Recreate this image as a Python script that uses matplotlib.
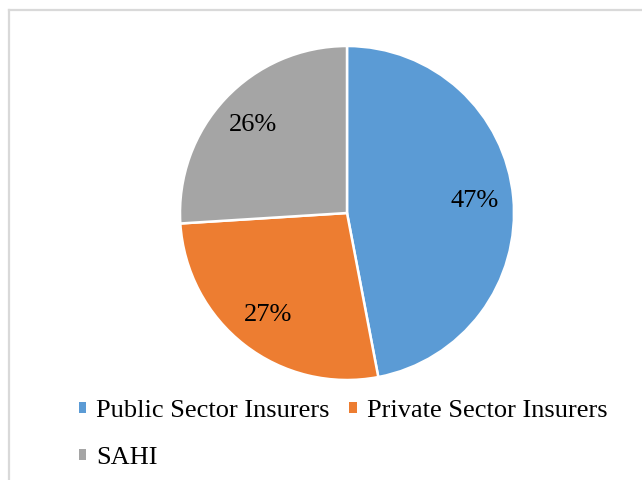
import matplotlib.pyplot as plt
from matplotlib.patches import Patch
from matplotlib.lines import Line2D

plt.rcParams['font.family'] = ['Liberation Serif', 'DejaVu Serif']

labels = ["Public Sector Insurers", "Private Sector Insurers", "SAHI"]
shares = [47, 27, 26]
colors = ["#5B9BD5", "#ED7D31", "#A5A5A5"]

fig = plt.figure(figsize=(6.42, 4.8), dpi=100)

# light grey frame (only top/left visible in the original crop)
fig.add_artist(Line2D([9 / 642, 9 / 642], [0, 1 - 10 / 480], color="#D9D9D9",
                      linewidth=1.6, transform=fig.transFigure))
fig.add_artist(Line2D([9 / 642, 1], [1 - 10 / 480, 1 - 10 / 480], color="#D9D9D9",
                      linewidth=1.6, transform=fig.transFigure))

ax = fig.add_axes([180 / 642, 100 / 480, 334 / 642, 334 / 480])
wedges, texts, autotexts = ax.pie(
    shares, colors=colors, startangle=90, counterclock=False,
    autopct="%1.0f%%", pctdistance=0.77,
    wedgeprops=dict(edgecolor="white", linewidth=1.8),
    textprops=dict(fontsize=19, color="black"))
ax.set_xlim(-1, 1)
ax.set_ylim(-1, 1)
ax.set_aspect("equal")

# row 1: Public, Private ; row 2: SAHI
handles = [Patch(facecolor=c, edgecolor="none") for c in colors]
order = [0, 2, 1]
fig.legend([handles[i] for i in order], [labels[i] for i in order],
           ncol=2, loc="upper left", bbox_to_anchor=(79 / 642, 1 - 400 / 480),
           frameon=False, fontsize=19, handlelength=0.27, handleheight=0.27,
           handletextpad=0.38, columnspacing=0.75, labelspacing=0.95,
           borderpad=0, borderaxespad=0)

fig.savefig("out.png", dpi=100)
